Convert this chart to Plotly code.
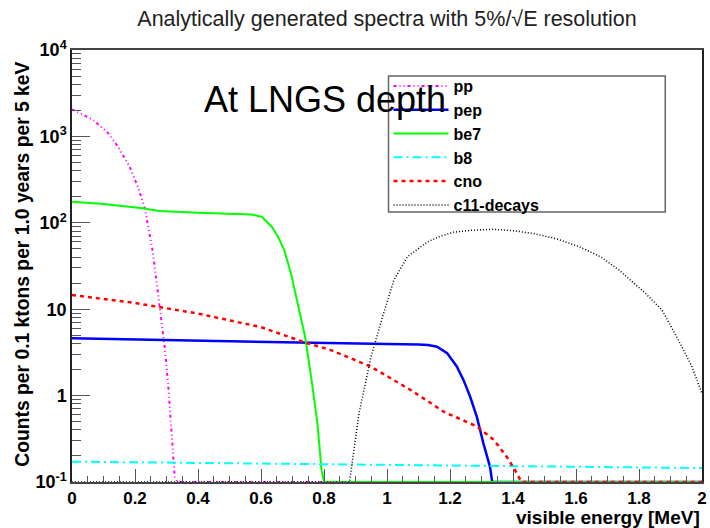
import numpy as np
import plotly.graph_objects as go

# ---------------- data ----------------
pp_E = [0, 0.067, 0.114, 0.146, 0.183, 0.209, 0.23, 0.24, 0.255, 0.269, 0.283, 0.295, 0.305, 0.315, 0.326, 0.334, 2.0]
pp_v = [2060, 1550, 1100, 760, 447, 262, 153, 98, 50, 20, 8.2, 3.4, 1.39, 0.37, 0.115, 0.05, 0.05]

pep_E = [0, 0.2, 0.4, 0.6, 0.8, 1.0, 1.1, 1.13, 1.159, 1.191, 1.222, 1.243, 1.264, 1.285, 1.306, 1.327, 1.334, 1.34, 2.0]
pep_v = [4.6, 4.45, 4.3, 4.15, 4.02, 3.95, 3.9, 3.85, 3.68, 3.09, 2.16, 1.51, 0.97, 0.57, 0.28, 0.15, 0.1, 0.05, 0.05]

be7_E = [0, 0.1, 0.225, 0.277, 0.4, 0.5, 0.571, 0.603, 0.634, 0.655, 0.674, 0.695, 0.714, 0.74, 0.759, 0.779, 0.792, 0.80, 2.0]
be7_v = [175, 165, 147, 137, 131, 128, 125, 117, 90, 68, 48, 26, 12.8, 4.8, 1.66, 0.48, 0.14, 0.05, 0.05]

b8_E = [0, 0.5, 1.0, 1.5, 2.0]
b8_v = [0.172, 0.165, 0.158, 0.151, 0.145]

cno_E = [0, 0.2, 0.4, 0.6, 0.75, 0.813, 0.88, 0.949, 1.01, 1.075, 1.13, 1.18, 1.235, 1.285, 1.338, 1.38, 1.406, 1.427, 1.44, 2.0]
cno_v = [14.6, 11.8, 8.9, 6.2, 4.0, 3.45, 2.75, 2.16, 1.6, 1.16, 0.86, 0.65, 0.53, 0.44, 0.31, 0.196, 0.138, 0.1, 0.05, 0.05]

c11_E = [0, 0.86, 0.881, 0.911, 0.949, 0.986, 1.022, 1.065, 1.128, 1.17, 1.212, 1.27, 1.338, 1.40, 1.463, 1.54, 1.61, 1.68, 1.736, 1.82, 1.873, 1.925, 1.967, 2.0]
c11_v = [0.05, 0.05, 0.1, 0.62, 2.8, 8.2, 21.8, 40.5, 60, 70, 78, 82, 84, 81, 75.5, 65, 53, 40, 28.5, 15.3, 9.8, 4.4, 2.2, 1.06]

y_floor = 0.1
x_ticks = [0, 0.2, 0.4, 0.6, 0.8, 1.0, 1.2, 1.4, 1.6, 1.8, 2.0]
x_ticktext = ["0", "0.2", "0.4", "0.6", "0.8", "1", "1.2", "1.4", "1.6", "1.8", "2"]
y_ticks = [0.1, 1, 10, 100, 1000, 10000]
y_ticktext = ["10<sup>-1</sup>", "1", "10", "10<sup>2</sup>", "10<sup>3</sup>", "10<sup>4</sup>"]

series = [
    ("pp", pp_E, pp_v, "#ff00ff", "3px,3px,1px,3px,1px,3px", 2),
    ("pep", pep_E, pep_v, "#0000ff", "solid", 2.5),
    ("be7", be7_E, be7_v, "#00ff00", "solid", 2),
    ("b8", b8_E, b8_v, "#00ffff", "9px,4px,2px,4px", 2),
    ("cno", cno_E, cno_v, "#ff0000", "4px,4px", 2.5),
    ("c11-decays", c11_E, c11_v, "#000000", "1px,2px", 1.5),
]

FONT = "Liberation Sans, Arial, Helvetica, sans-serif"

fig = go.Figure()
for name, E, v, col, dash, w in series:
    vals = np.maximum(np.array(v, dtype=float), y_floor)
    fig.add_trace(go.Scatter(
        x=E, y=vals, mode="lines", name=name,
        line=dict(color=col, dash=dash, width=w),
    ))

minor_y = [k * 10.0 ** d for d in range(-1, 4) for k in range(2, 10)]

fig.update_layout(
    width=710, height=528,
    margin=dict(l=72, r=3, t=50, b=46),
    paper_bgcolor="white", plot_bgcolor="white",
    font=dict(family=FONT, color="black"),
    showlegend=True,
    legend=dict(
        x=0.5024, y=0.956, xanchor="left", yanchor="top",
        bgcolor="rgba(0,0,0,0)", borderwidth=0,
        font=dict(family=FONT, size=16, color="black", weight="bold"),
        itemwidth=55, tracegroupgap=0,
    ),
    shapes=[
        dict(type="rect", xref="paper", yref="paper", x0=0.5024, x1=0.9417, y0=0.625, y1=0.9398,
             fillcolor="white", line=dict(color="#666666", width=1.5), layer="above"),
    ],
    title=dict(
        text="Analytically generated spectra with 5%/√E resolution",
        x=0.5, xref="paper", xanchor="center",
        y=1 - 18 / 528, yref="container", yanchor="middle",
        font=dict(family=FONT, size=21.5, color="#222222"),
    ),
    xaxis=dict(
        range=[0, 2], showgrid=False, zeroline=False,
        showline=True, linecolor="#444444", linewidth=1.5, mirror=True,
        ticks="inside", ticklen=13, tickcolor="#555555", tickwidth=1,
        tickvals=x_ticks, ticktext=x_ticktext, ticklabeloverflow="allow",
        tickfont=dict(family=FONT, size=17, color="black", weight="bold"),
        minor=dict(dtick=0.05, ticks="inside", ticklen=6, tickcolor="#555555", showgrid=False),
    ),
    yaxis=dict(
        type="log", range=[-1, 4], showgrid=False, zeroline=False,
        showline=True, linecolor="#222222", linewidth=1.5, mirror=True,
        ticks="inside", ticklen=18, tickcolor="#555555", tickwidth=1,
        tickvals=y_ticks, ticktext=y_ticktext,
        tickfont=dict(family=FONT, size=18, color="black", weight="bold"),
        minor=dict(tickmode="array", tickvals=minor_y, ticks="inside", ticklen=9,
                   tickcolor="#555555", showgrid=False),
    ),
    annotations=[
        dict(text="Counts per 0.1 ktons per 1.0 years per 5 keV", textangle=-90,
             xref="paper", yref="paper", x=-0.078, y=0.505, xanchor="center", yanchor="middle",
             showarrow=False, font=dict(family=FONT, size=19.3, color="black", weight="bold")),
        dict(text="visible energy [MeV]", xref="paper", yref="paper",
             x=1.0, y=-0.083, xanchor="right", yanchor="middle",
             showarrow=False, font=dict(family=FONT, size=19, color="black", weight="bold")),
        dict(text="At LNGS depth", xref="paper", yref="paper",
             x=0.401, y=0.886, xanchor="center", yanchor="middle",
             showarrow=False, font=dict(family=FONT, size=36, color="black")),
    ],
)

fig.write_html("out.html")
